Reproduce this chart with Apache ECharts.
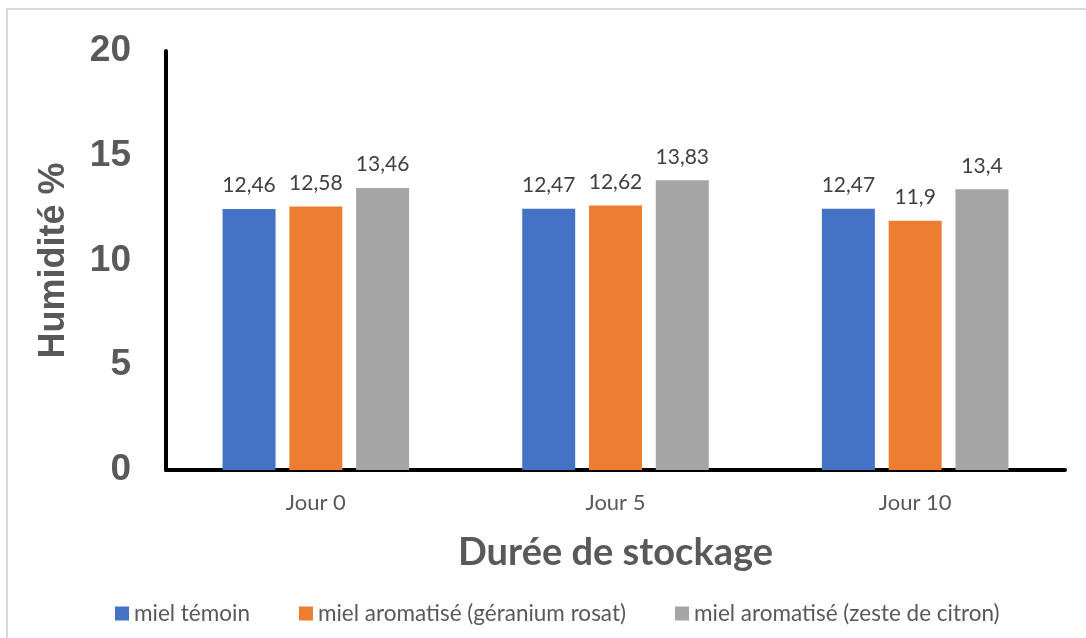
<!DOCTYPE html>
<html>
<head>
<meta charset="utf-8">
<script src="https://cdn.jsdelivr.net/npm/echarts@6/dist/echarts.min.js"></script>
<style>
  html, body { margin: 0; padding: 0; background: #fff; }
  #chart { width: 1086px; height: 638px; }
</style>
</head>
<body>
<div id="chart"></div>
<script>
// Moisture content of honey over storage time
const categories = ['Jour 0', 'Jour 5', 'Jour 10'];
const seriesNames = [
  'miel témoin',
  'miel aromatisé (géranium rosat)',
  'miel aromatisé (zeste de citron)'
];
const temoin = [12.46, 12.47, 12.47];
const geranium = [12.58, 12.62, 11.9];
const citron = [13.46, 13.83, 13.4];
const yTicks = [0, 5, 10, 15, 20];

const colors = ['#4472C4', '#ED7D31', '#A5A5A5'];
const values = [temoin, geranium, citron];

const chart = echarts.init(document.getElementById('chart'));

// decimal comma for the value labels
const fmt = p => String(p.value).replace('.', ',');

chart.setOption({
  animation: false,
  backgroundColor: '#ffffff',
  graphic: [{
    type: 'rect',
    shape: { x: 7, y: 9, width: 1100, height: 660 },
    style: { fill: 'none', stroke: '#d9d9d9', lineWidth: 2 },
    silent: true
  }],
  grid: { left: 166, right: 21, top: 51, bottom: 168 },
  legend: {
    top: 597,
    left: 110,
    icon: 'rect',
    itemWidth: 14,
    itemHeight: 14,
    itemGap: 49,
    textStyle: { fontFamily: 'Lato', fontSize: 22.5, color: '#595959' },
    data: seriesNames
  },
  xAxis: {
    type: 'category',
    data: categories,
    name: 'Durée de stockage',
    nameLocation: 'middle',
    nameGap: 64,
    nameTextStyle: { fontFamily: 'Lato', fontWeight: 'bold', fontSize: 38, color: '#595959' },
    axisLine: { lineStyle: { color: '#000', width: 4 } },
    axisTick: { show: false },
    axisLabel: { fontFamily: 'Lato', fontSize: 22, color: '#595959', margin: 22 }
  },
  yAxis: {
    type: 'value',
    min: yTicks[0],
    max: yTicks[yTicks.length - 1],
    interval: 5,
    name: 'Humidité %',
    nameLocation: 'middle',
    nameGap: 94,
    nameTextStyle: { fontFamily: 'Liberation Sans', fontWeight: 'bold', fontSize: 36, color: '#595959' },
    axisLine: { show: true, lineStyle: { color: '#000', width: 4 } },
    axisTick: { show: false },
    splitLine: { show: false },
    axisLabel: { fontFamily: 'Liberation Sans', fontWeight: 'bold', fontSize: 37, color: '#595959', margin: 35 }
  },
  series: values.map((v, i) => ({
    name: seriesNames[i],
    type: 'bar',
    data: v,
    barWidth: 53,
    barGap: '26%',
    itemStyle: { color: colors[i] },
    label: {
      show: true,
      position: 'top',
      distance: 13,
      formatter: fmt,
      fontFamily: 'Lato',
      fontSize: 21,
      color: '#404040'
    }
  }))
});
</script>
</body>
</html>
